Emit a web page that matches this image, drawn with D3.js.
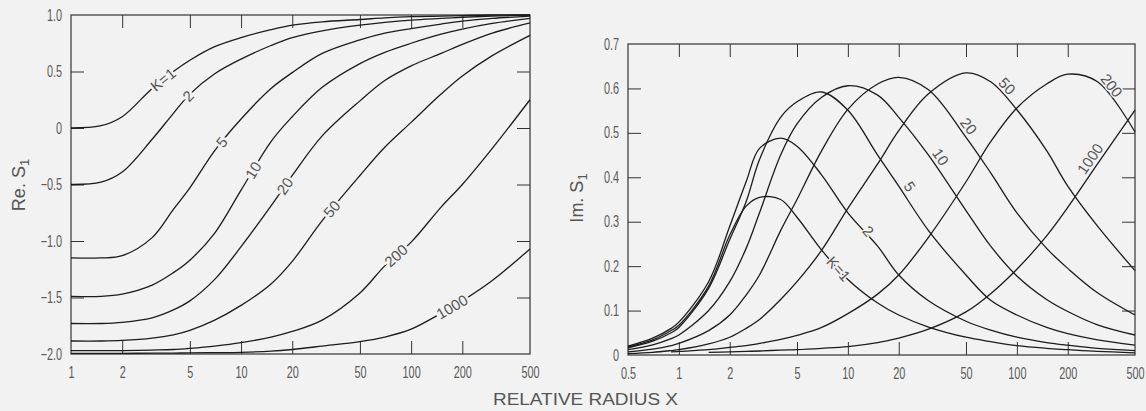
<!DOCTYPE html>
<html>
<head>
<meta charset="utf-8">
<script src="https://cdn.jsdelivr.net/npm/d3@7"></script>
<style>
  body { margin: 0; background: #f2f2f2; }
  svg { display: block; }
  .frame { fill: none; stroke: #333; stroke-width: 1.2; }
  .curve { fill: none; stroke: #1c1c1c; stroke-width: 1.3; }
  .tk line { stroke: #333; stroke-width: 1; }
  .tk path { display: none; }
  .lbl path { display: none; }
  .lbl text { fill: #5a5a5a; font-family: "Liberation Sans", Arial, sans-serif; font-size: 16px; }
  .ttl { fill: #555; font-family: "Liberation Sans", Arial, sans-serif; }
  .klab { fill: #555; font-family: "Liberation Sans", Arial, sans-serif; font-size: 15px; }
</style>
</head>
<body>
<svg width="1146" height="411"></svg>
<script>
// ---- Re S1 (left panel) ----
var reX = [1, 1.5, 2, 3, 4, 5, 7, 10, 15, 20, 30, 50, 70, 100, 150, 200, 300, 500];
var reK1 = [0, 0.02, 0.10, 0.35, 0.50, 0.60, 0.72, 0.80, 0.87, 0.91, 0.94, 0.96, 0.975, 0.985, 0.99, 0.995, 1.0, 1.0];
var reK2 = [-0.50, -0.48, -0.39, -0.10, 0.13, 0.30, 0.48, 0.61, 0.73, 0.80, 0.86, 0.91, 0.935, 0.955, 0.97, 0.98, 0.99, 1.0];
var reK5 = [-1.15, -1.15, -1.13, -0.97, -0.72, -0.53, -0.20, 0.08, 0.35, 0.49, 0.66, 0.78, 0.84, 0.88, 0.92, 0.945, 0.97, 0.99];
var reK10 = [-1.49, -1.49, -1.47, -1.39, -1.28, -1.17, -0.93, -0.55, -0.12, 0.10, 0.36, 0.57, 0.67, 0.75, 0.83, 0.875, 0.925, 0.97];
var reK20 = [-1.73, -1.73, -1.72, -1.68, -1.61, -1.53, -1.34, -1.05, -0.69, -0.42, -0.07, 0.24, 0.42, 0.55, 0.66, 0.74, 0.84, 0.93];
var reK50 = [-1.885, -1.885, -1.88, -1.86, -1.83, -1.79, -1.70, -1.57, -1.38, -1.18, -0.82, -0.42, -0.17, 0.05, 0.30, 0.46, 0.64, 0.82];
var reK200 = [-1.97, -1.97, -1.97, -1.965, -1.96, -1.95, -1.93, -1.90, -1.85, -1.80, -1.70, -1.46, -1.22, -1.01, -0.70, -0.50, -0.18, 0.25];
var reK1000 = [-1.994, -1.994, -1.994, -1.993, -1.992, -1.99, -1.988, -1.985, -1.975, -1.96, -1.93, -1.89, -1.85, -1.78, -1.64, -1.53, -1.35, -1.07];
var reNames = ["K=1", "2", "5", "10", "20", "50", "200", "1000"];
var reLabelAt = [3.48, 4.88, 7.7, 11.8, 18.1, 34.2, 81.5, 174];

// ---- Im S1 (right panel) ----
var imX = [0.5, 0.7, 0.9, 1, 1.5, 2, 2.5, 3, 4, 5, 7, 10, 15, 20, 30, 50, 70, 100, 150, 200, 300, 500];
var imK1 = [0.018, 0.034, 0.055, 0.067, 0.155, 0.27, 0.335, 0.355, 0.35, 0.31, 0.236, 0.17, 0.117, 0.09, 0.063, 0.04, 0.03, 0.021, 0.015, 0.012, 0.008, 0.005];
var imK2 = [0.02, 0.038, 0.06, 0.074, 0.165, 0.29, 0.39, 0.465, 0.488, 0.47, 0.405, 0.32, 0.245, 0.18, 0.122, 0.076, 0.056, 0.04, 0.028, 0.022, 0.015, 0.01];
var imK5 = [0.016, 0.031, 0.05, 0.062, 0.15, 0.26, 0.345, 0.44, 0.535, 0.57, 0.592, 0.551, 0.45, 0.38, 0.28, 0.18, 0.123, 0.09, 0.062, 0.048, 0.034, 0.022];
var imK10 = [0.012, 0.023, 0.037, 0.045, 0.1, 0.165, 0.24, 0.32, 0.45, 0.52, 0.58, 0.606, 0.585, 0.535, 0.45, 0.325, 0.245, 0.178, 0.125, 0.098, 0.068, 0.045];
var imK20 = [0.007, 0.013, 0.021, 0.026, 0.055, 0.09, 0.135, 0.18, 0.28, 0.35, 0.46, 0.553, 0.61, 0.625, 0.597, 0.49, 0.41, 0.32, 0.24, 0.195, 0.14, 0.09];
var imK50 = [0.003, 0.006, 0.01, 0.012, 0.025, 0.04, 0.06, 0.08, 0.125, 0.165, 0.236, 0.33, 0.43, 0.505, 0.588, 0.635, 0.615, 0.552, 0.46, 0.38, 0.29, 0.19];
var imK200 = [null, null, 0.007, 0.008, 0.012, 0.017, 0.021, 0.026, 0.035, 0.044, 0.062, 0.093, 0.137, 0.18, 0.265, 0.39, 0.48, 0.556, 0.61, 0.632, 0.615, 0.502];
var imK1000 = [null, null, null, null, 0.006, 0.007, 0.008, 0.009, 0.011, 0.012, 0.015, 0.019, 0.028, 0.038, 0.058, 0.097, 0.138, 0.193, 0.268, 0.332, 0.43, 0.551];
var imNames = ["K=1", "2", "5", "10", "20", "50", "200", "1000"];
var imLabelAt = [8.8, 12.8, 21, 32, 47, 80, 330, 300];
var imLabelOff = [0, 3, 9, 9, 9, 9, 9, 9];

// ticks
var reTicksX = [2, 5, 10, 20, 50, 100, 200];
var reLabelsX = [1, 2, 5, 10, 20, 50, 100, 200, 500];
var reTicksY = [-1.5, -1, -0.5, 0, 0.5];
var reLabelsY = [-2, -1.5, -1, -0.5, 0, 0.5, 1];
var imTicksX = [1, 2, 5, 10, 20, 50, 100, 200];
var imLabelsX = [0.5, 1, 2, 5, 10, 20, 50, 100, 200, 500];
var imTicksY = [0.1, 0.2, 0.3, 0.4, 0.5, 0.6];
var imLabelsY = [0, 0.1, 0.2, 0.3, 0.4, 0.5, 0.6, 0.7];

var bg = "#f2f2f2";
var svg = d3.select("svg");
svg.append("rect").attr("width", 1146).attr("height", 411).attr("fill", bg);

var xRe = d3.scaleLog().domain([1, 500]).range([71, 530]);
var yRe = d3.scaleLinear().domain([-2, 1]).range([354, 15]);
var xIm = d3.scaleLog().domain([0.5, 500]).range([628, 1135]);
var yIm = d3.scaleLinear().domain([0, 0.7]).range([355, 44]);

function fmtY(v) { return v === 0 ? "0" : d3.format(".1f")(v); }
function fmtX(v) { return v < 1 ? String(v) : d3.format("d")(v); }

function drawPanel(x, y, ticksX, labelsX, ticksY, labelsY) {
  var g = svg.append("g");
  var xr = x.range(), yr = y.range();

  // inward ticks on all four sides
  g.append("g").attr("class", "tk").attr("transform", "translate(0," + yr[0] + ")")
    .call(d3.axisBottom(x).tickValues(ticksX).tickSize(-13).tickFormat(""));
  g.append("g").attr("class", "tk").attr("transform", "translate(0," + yr[1] + ")")
    .call(d3.axisTop(x).tickValues(ticksX).tickSize(-13).tickFormat(""));
  g.append("g").attr("class", "tk").attr("transform", "translate(" + xr[0] + ",0)")
    .call(d3.axisLeft(y).tickValues(ticksY).tickSize(-13).tickFormat(""));
  g.append("g").attr("class", "tk").attr("transform", "translate(" + xr[1] + ",0)")
    .call(d3.axisRight(y).tickValues(ticksY).tickSize(-13).tickFormat(""));

  // tick labels, narrowed
  var bx = g.append("g").attr("class", "lbl").attr("transform", "translate(0," + yr[0] + ")")
    .call(d3.axisBottom(x).tickValues(labelsX).tickSize(0).tickPadding(13).tickFormat(fmtX));
  bx.selectAll("text").attr("transform", "scale(0.68,1)");
  var ly = g.append("g").attr("class", "lbl").attr("transform", "translate(" + xr[0] + ",0)")
    .call(d3.axisLeft(y).tickValues(labelsY).tickSize(0).tickPadding(13).tickFormat(fmtY));
  ly.selectAll("text").attr("transform", "scale(0.68,1)");

  g.append("rect").attr("class", "frame")
    .attr("x", xr[0]).attr("y", yr[1])
    .attr("width", xr[1] - xr[0]).attr("height", yr[0] - yr[1]);
  return g;
}

function pointOn(xs, vals, v, x, y) {
  var lv = Math.log(v);
  for (var i = 0; i < xs.length - 1; i++) {
    if (vals[i] == null || vals[i + 1] == null) continue;
    if (v >= xs[i] && v <= xs[i + 1]) {
      var t = (lv - Math.log(xs[i])) / (Math.log(xs[i + 1]) - Math.log(xs[i]));
      return [x(v), y(vals[i] + t * (vals[i + 1] - vals[i]))];
    }
  }
  return null;
}

function drawCurves(g, x, y, xs, series, names, at, offs, halo) {
  var line = d3.line()
    .defined(function (d) { return d[1] != null; })
    .x(function (d) { return x(d[0]); })
    .y(function (d) { return y(d[1]); })
    .curve(d3.curveCatmullRom.alpha(0.5));

  series.forEach(function (vals) {
    g.append("path").attr("class", "curve")
      .attr("d", line(xs.map(function (xv, i) { return [xv, vals[i]]; })));
  });

  series.forEach(function (vals, i) {
    var p = pointOn(xs, vals, at[i], x, y),
      a = pointOn(xs, vals, at[i] / 1.12, x, y),
      b = pointOn(xs, vals, at[i] * 1.12, x, y);
    var ang = Math.atan2(b[1] - a[1], b[0] - a[0]);
    var off = offs ? offs[i] : 0;
    var px = p[0] + off * Math.sin(ang), py = p[1] - off * Math.cos(ang);
    g.append("text").attr("class", "klab")
      .attr("transform", "translate(" + px + "," + py + ") rotate(" + (ang * 180 / Math.PI) + ")")
      .attr("text-anchor", "middle").attr("dy", "0.35em")
      .attr("stroke", bg).attr("stroke-width", halo).attr("paint-order", "stroke")
      .text(names[i]);
  });
}

var gRe = drawPanel(xRe, yRe, reTicksX, reLabelsX, reTicksY, reLabelsY);
drawCurves(gRe, xRe, yRe, reX, [reK1, reK2, reK5, reK10, reK20, reK50, reK200, reK1000], reNames, reLabelAt, null, 5);

var gIm = drawPanel(xIm, yIm, imTicksX, imLabelsX, imTicksY, imLabelsY);
drawCurves(gIm, xIm, yIm, imX, [imK1, imK2, imK5, imK10, imK20, imK50, imK200, imK1000], imNames, imLabelAt, imLabelOff, 3);

// axis titles
var t1 = svg.append("text").attr("class", "ttl").attr("font-size", 18)
  .attr("transform", "translate(25,185) rotate(-90)").attr("text-anchor", "middle");
t1.append("tspan").text("Re. S");
t1.append("tspan").attr("font-size", 13).attr("dy", 4).text("1");

var t2 = svg.append("text").attr("class", "ttl").attr("font-size", 18)
  .attr("transform", "translate(583,198) rotate(-90)").attr("text-anchor", "middle");
t2.append("tspan").text("Im. S");
t2.append("tspan").attr("font-size", 13).attr("dy", 4).text("1");

svg.append("text").attr("class", "ttl").attr("font-size", 16)
  .attr("x", 493).attr("y", 405)
  .attr("textLength", 185).attr("lengthAdjust", "spacingAndGlyphs")
  .text("RELATIVE RADIUS X");
</script>
</body>
</html>
